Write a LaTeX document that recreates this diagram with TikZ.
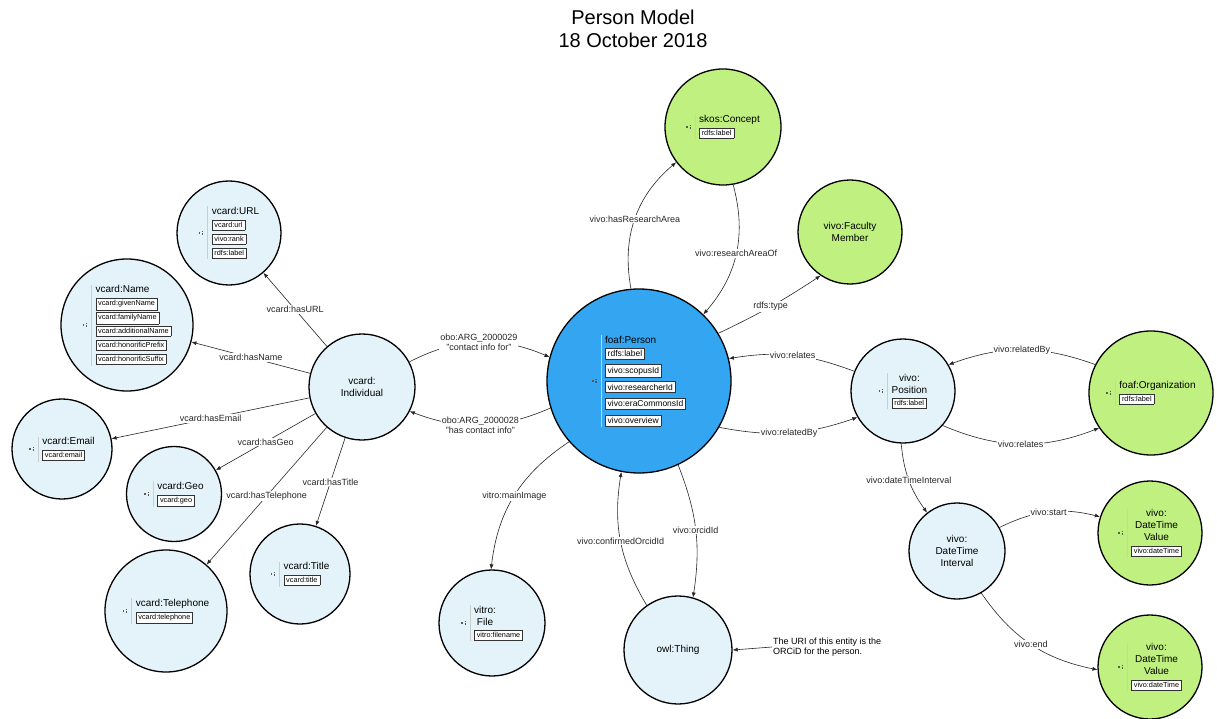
\documentclass[tikz,border=0pt]{standalone}
\usepackage{fontspec}
\setmainfont{Liberation Sans}
\usetikzlibrary{arrows.meta}

\definecolor{paleblue}{RGB}{228,243,250}
\definecolor{personblue}{RGB}{52,165,240}
\definecolor{conceptgreen}{RGB}{192,240,128}
\definecolor{sepgray}{RGB}{205,205,205}
\definecolor{icongray}{RGB}{90,90,90}

\setlength{\fboxsep}{2.1pt}
\setlength{\fboxrule}{0.5pt}

% property slot inside a class circle
\newcommand{\propfont}{\fontsize{7.3}{8.6}\selectfont}
\newcommand{\pbox}[1]{{\propfont\fcolorbox{black!80}{white}{#1}}}
\newcommand{\rowgap}{2pt}
% small handle mark left of a class block
\newcommand{\iconmark}{$\vcenter{\hbox{\color{icongray}\raisebox{1pt}{\rule{1.5pt}{1.5pt}}\hspace{1.8pt}\vbox{\hrule width 1.3pt height 0.8pt\vskip 0.6pt\hrule width 1.3pt height 0.8pt\vskip 0.6pt\hrule width 1.3pt height 0.8pt}}}$}
% class block: handle, grey separator, title and property slots
\newcommand{\classtext}[3][l]{\iconmark\hspace{4pt}\hbox{{\color{sepgray}\vrule width 0.9pt}\hspace{3.5pt}\begin{tabular}{@{}#1@{}}#2\\[1pt]#3\end{tabular}}}

\tikzset{
  cls/.style={circle, draw=black, line width=1.3pt, inner sep=0pt, align=center,
              font=\fontsize{10}{12}\selectfont},
  pale/.style={cls, fill=paleblue},
  lime/.style={cls, fill=conceptgreen},
  personnode/.style={cls, fill=personblue},
  rel/.style={-{Latex[length=5pt,width=4pt]}, line width=0.6pt, black!85},
  lbl/.style={fill=white, inner sep=1pt, font=\fontsize{9}{10.5}\selectfont, align=center},
  plainlbl/.style={inner sep=1pt, font=\fontsize{9}{10.5}\selectfont, align=left},
}

\begin{document}
\begin{tikzpicture}[x=1pt, y=1pt]
\useasboundingbox (0,0) rectangle (1217,-719);
\fill[white] (0,0) rectangle (1217,-719);

% heading
\node[font=\fontsize{20}{23}\selectfont, align=center] (heading) at (633,-29) {Person Model\\18 October 2018};

% contact information side
\node[pale, minimum size=104pt] (url) at (229,-233)
  {\classtext{vcard:URL}{\pbox{vcard:url}\\[\rowgap]\pbox{vivo:rank}\\[\rowgap]\pbox{rdfs:label}}};
\node[pale, minimum size=132pt] (name) at (127,-325)
  {\classtext{vcard:Name}{\pbox{vcard:givenName}\\[\rowgap]\pbox{vcard:familyName}\\[\rowgap]\pbox{vcard:additionalName}\\[\rowgap]\pbox{vcard:honorificPrefix}\\[\rowgap]\pbox{vcard:honorificSuffix}}};
\node[pale, minimum size=100pt] (email) at (62,-449)
  {\classtext{vcard:Email}{\pbox{vcard:email}}};
\node[pale, minimum size=95pt] (geo) at (174,-494)
  {\classtext{vcard:Geo}{\pbox{vcard:geo}}};
\node[pale, minimum size=100pt] (vtitle) at (300,-574)
  {\classtext{vcard:Title}{\pbox{vcard:title}}};
\node[pale, minimum size=122pt] (phone) at (166,-611)
  {\classtext{vcard:Telephone}{\pbox{vcard:telephone}}};
\node[pale, minimum size=106pt] (indiv) at (362,-387) {vcard:\\Individual};

% the person
\node[personnode, minimum size=184pt] (person) at (639,-381)
  {\renewcommand{\propfont}{\fontsize{8.5}{10}\selectfont}\renewcommand{\rowgap}{4.5pt}%
   \classtext{foaf:Person}{\pbox{rdfs:label}\\[\rowgap]\pbox{vivo:scopusId}\\[\rowgap]\pbox{vivo:researcherId}\\[\rowgap]\pbox{vivo:eraCommonsId}\\[\rowgap]\pbox{vivo:overview}}};

\node[lime, minimum size=116pt] (concept) at (723,-127)
  {\classtext{skos:Concept}{\pbox{rdfs:label}}};
\node[lime, minimum size=104pt] (faculty) at (850,-232) {vivo:Faculty\\Member};

% positions and organisations
\node[pale, minimum size=104pt] (position) at (903,-391)
  {\classtext{\begin{tabular}{@{}c@{}}vivo:\\Position\end{tabular}}{\pbox{rdfs:label}}};
\node[lime, minimum size=124pt] (org) at (1151,-393)
  {\classtext{foaf:Organization}{\pbox{rdfs:label}}};
\node[pale, minimum size=96pt] (interval) at (957,-551) {vivo:\\DateTime\\Interval};
\node[lime, minimum size=104pt] (startval) at (1150,-533)
  {\classtext[c]{vivo:\\DateTime\\Value}{\pbox{vivo:dateTime}}};
\node[lime, minimum size=104pt] (endval) at (1150,-667)
  {\classtext[c]{vivo:\\DateTime\\Value}{\pbox{vivo:dateTime}}};

% image file and ORCiD
\node[pale, minimum size=106pt] (file) at (492,-623)
  {\classtext{\begin{tabular}{@{}c@{}}vitro:\\File\end{tabular}}{\pbox{vitro:filename}}};
\node[pale, minimum size=108pt] (thing) at (678,-650) {owl:Thing};
\node[plainlbl, anchor=west] (note) at (772,-647) {The URI of this entity is the\\ORCiD for the person.};

% vcard relations
\draw[rel] (indiv) -- node[lbl] {vcard:hasURL} (url);
\draw[rel] (indiv) -- node[lbl] {vcard:hasName} (name);
\draw[rel] (indiv) -- node[lbl] {vcard:hasEmail} (email);
\draw[rel] (indiv) -- node[lbl] {vcard:hasGeo} (geo);
\draw[rel] (indiv) -- node[lbl] {vcard:hasTelephone} (phone);
\draw[rel] (indiv) -- node[lbl] {vcard:hasTitle} (vtitle);

% contact info links
\draw[rel] (indiv.28) to[bend left=25] node[lbl] {obo:ARG\_2000029\\"contact info for"} (person.165);
\draw[rel] (person.197) to[bend left=22] node[lbl] {obo:ARG\_2000028\\"has contact info"} (indiv.-27);

% research area and type
\draw[rel] (person.95) to[bend left=30] node[lbl] {vivo:hasResearchArea} (concept.217);
\draw[rel] (concept.280) to[bend left=28] node[lbl] {vivo:researchAreaOf} (person.46);
\draw[rel] (person.31) to[bend right=4] node[lbl] {rdfs:type} (faculty.236);

% position links
\draw[rel] (position.158) to[bend right=15] node[lbl] {vivo:relates} (person.14);
\draw[rel] (person.-30) to[bend right=15] node[lbl] {vivo:relatedBy} (position.210);
\draw[rel] (org.153) to[bend right=20] node[lbl] {vivo:relatedBy} (position.30);
\draw[rel] (position.-41) to[bend right=22] node[lbl] {vivo:relates} (org.214);
\draw[rel] (position.-92) to[bend right=15] node[lbl] {vivo:dateTimeInterval} (interval.128);
\draw[rel] (interval.29) to[bend left=20] node[lbl] {vivo:start} (startval.162);
\draw[rel] (interval.-60) to[bend right=22] node[lbl] {vivo:end} (endval.183);

% image and ORCiD links
\draw[rel] (person.221) to[bend right=25] node[lbl] {vitro:mainImage} (file.91);
\draw[rel] (thing.125) to[bend left=20] node[lbl] {vivo:confirmedOrcidId} (person.259);
\draw[rel] (person.-65) to[bend left=15] node[lbl] {vivo:orcidId} (thing.74);
\draw[rel] (note.west) -- (thing.east);
\end{tikzpicture}
\end{document}
